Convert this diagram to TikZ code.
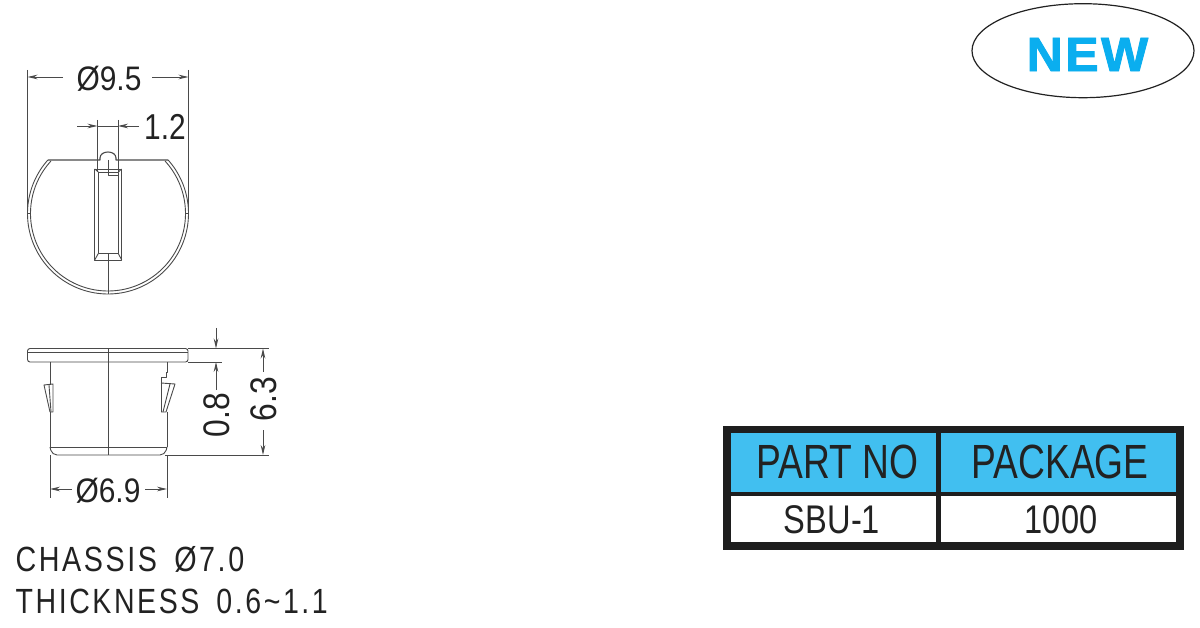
\documentclass[tikz,border=0pt]{standalone}
\usepackage{fontspec}
\setmainfont{Liberation Sans}
\newfontfamily\spacedfont[LetterSpace=9]{Liberation Sans}
\newfontfamily\heavyfont[FakeBold=1.8,LetterSpace=5]{Liberation Sans Bold}
\usetikzlibrary{arrows.meta}
\definecolor{ink}{HTML}{222222}
\definecolor{linegray}{HTML}{4A4A4A}
\definecolor{cellblue}{HTML}{41BFF0}
\definecolor{newblue}{HTML}{0AAEEF}
\definecolor{tableblack}{HTML}{1E1E1E}
\newcommand{\fsz}[1]{\fontsize{#1pt}{#1pt}\selectfont}
\tikzset{
  x=1pt,y=-1pt,
  part/.style={draw=linegray,line width=0.9pt,line join=round},
  dimline/.style={draw=linegray,line width=0.9pt},
  dimtip/.style={dimline,-{Stealth[length=10pt,width=4.6pt]}},
  dimlabel/.style={inner sep=0pt,text=ink},
  cell/.style={inner sep=0pt,text=ink,anchor=center},
}
\begin{document}
\begin{tikzpicture}
\useasboundingbox (0,0) rectangle (1200,628);
\fill[white] (0,0) rectangle (1200,628);

% top view
\draw[part] plot[domain=-41.65:221.65,samples=120] ({108+80.5*cos(\x)},{213.5+80.5*sin(\x)});
\draw[part] plot[domain=-42.6:222.6,samples=120] ({108+77.5*cos(\x)},{213.5+77.5*sin(\x)});
\draw[part,line width=1.1pt] (48,160) -- (100,160) -- (100,158) .. controls (100,150) and (116,150) .. (116,158) -- (116,160) -- (168,160);
\draw[part] (94.7,169) rectangle (121.7,260);
\draw[part] (98.3,172) rectangle (118.3,253.5);
\draw[part] (94.7,169) -- (98.3,172) (121.7,169) -- (118.3,172) (94.7,260) -- (98.3,253.5) (121.7,260) -- (118.3,253.5);
\draw[part] (108,160) -- (108,175) -- (118.3,175);
\draw[part] (108,253.5) -- (108,294);
\draw[part] (27.5,213.5) -- (30.5,213.5) (185,213.5) -- (188.5,213.5);

% top view dimensions
\draw[dimline] (27.5,70) -- (27.5,213);
\draw[dimline] (188.5,70) -- (188.5,213);
\draw[dimtip] (63,77) -- (27.5,77);
\draw[dimtip] (152,77) -- (188.5,77);
\node[dimlabel,xscale=.88] (d95) at (109,79) {\fsz{34}Ø9.5};
\draw[dimline] (97.5,120) -- (97.5,172);
\draw[dimline] (118,120) -- (118,172);
\draw[dimtip] (77,126) -- (97.5,126);
\draw[dimtip] (139,126) -- (118,126);
\draw[dimline] (97.5,126) -- (118,126);
\node[dimlabel,xscale=.83,anchor=west] (d12) at (144,127) {\fsz{36}1.2};

% side view
\draw[part,rounded corners=2.5pt] (27.5,362) -- (27.5,348.5) -- (188,348.5) -- (188,362) -- cycle;
\draw[part] (28,352) -- (187.5,352);
\draw[part] (108,348.5) -- (108,455);
\draw[part] (50,362) -- (50,385);
\draw[part] (50,412) -- (50,447);
\draw[part] (167,362) -- (167,372) -- (166,372) -- (166,377) -- (161,377) -- (161,412);
\draw[part] (167,412) -- (167,447);
\draw[part] (44,385) -- (53,384) -- (53,412) -- (50,412) -- cycle;
\draw[part] (49,385) -- (51,412);
\draw[part] (161,383) -- (175,384) -- (166,412) -- (161,412);
\draw[part] (170,384) -- (163,412);
\draw[part] (50,447) -- (167,447);
\draw[part,rounded corners=5pt] (50,447) -- (52,455) -- (165,455) -- (167,447);

% side view dimensions
\draw[dimline] (188,348.5) -- (269,348.5);
\draw[dimline] (188,362) -- (222,362);
\draw[dimline] (165,455) -- (269,455);
\draw[dimtip] (216,328) -- (216,348.5);
\draw[dimtip] (216,390) -- (216,362);
\node[dimlabel,rotate=90,xscale=.86] (d08) at (217,415) {\fsz{37}0.8};
\draw[dimtip] (263,372) -- (263,348.5);
\draw[dimtip] (263,430) -- (263,455);
\node[dimlabel,rotate=90,xscale=.86] (d63) at (263.5,399) {\fsz{37}6.3};
\draw[dimline] (50,455) -- (50,498);
\draw[dimline] (167,455) -- (167,498);
\draw[dimtip] (72,489) -- (50,489);
\draw[dimtip] (145,489) -- (167,489);
\node[dimlabel,xscale=.88] (d69) at (108,491) {\fsz{34}Ø6.9};

% chassis note
\node[dimlabel,anchor=west,xscale=.82] (chassis) at (15.5,559) {\spacedfont\fsz{35}CHASSIS\hspace{8pt} Ø7.0};
\node[dimlabel,anchor=west,xscale=.815] (thick) at (15.5,601) {\spacedfont\fsz{35}THICKNESS\hspace{8pt} 0.6\char`\~1.1};

% NEW badge
\draw[draw=ink,line width=1.2pt] (1083,50.7) ellipse [x radius=111pt,y radius=47pt];
\node[inner sep=0pt,text=newblue,xscale=1.04] (new) at (1087.5,54.5) {\fsz{48}\heavyfont NEW};

% table
\fill[tableblack] (722.7,425.7) rectangle (1184,550);
\fill[cellblue] (730.7,433) rectangle (936,491.7);
\fill[cellblue] (940.7,433) rectangle (1176,491.7);
\fill[white] (730.7,495.7) rectangle (936,541.7);
\fill[white] (940.7,495.7) rectangle (1176,541.7);
\node[cell,xscale=.775] (partno) at (837.5,462) {\fsz{48}PART NO};
\node[cell,xscale=.775] (package) at (1060,462) {\fsz{48}PACKAGE};
\node[cell,xscale=.815] (sbu) at (832,519.5) {\fsz{40}SBU-1};
\node[cell,xscale=.815] (qty) at (1061,519.5) {\fsz{40}1000};
\end{tikzpicture}
\end{document}
